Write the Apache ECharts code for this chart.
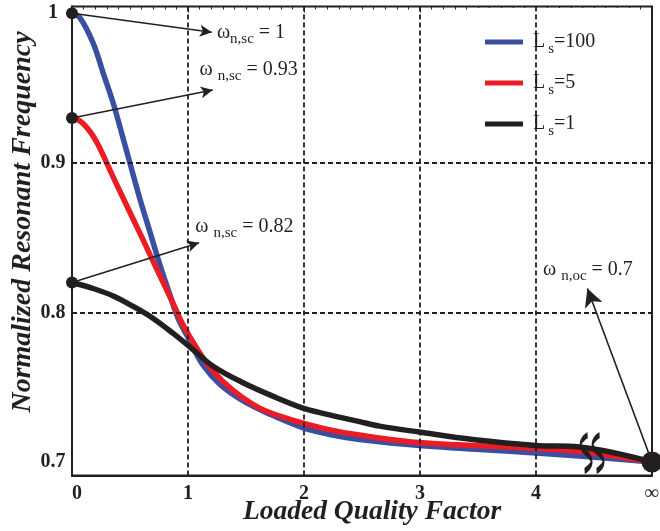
<!DOCTYPE html>
<html>
<head>
<meta charset="utf-8">
<script src="https://cdn.jsdelivr.net/npm/echarts@6/dist/echarts.min.js"></script>
<style>
  html, body { margin: 0; padding: 0; background: #fff; }
  #chart { width: 660px; height: 531px; }
</style>
</head>
<body>
<div id="chart"></div>
<script>
// Normalized resonant frequency versus loaded quality factor (x = 5 stands for Q = infinity)
const qLs100 = [0, 0.069, 0.183, 0.269, 0.355, 0.428, 0.499, 0.585, 0.671, 0.757, 0.843, 0.915, 1.016, 1.127, 1.274, 1.472, 1.704, 1.988, 2.246, 2.479, 2.995, 4.002, 4.372, 5];
const wLs100 = [1.0, 0.997, 0.980, 0.960, 0.940, 0.920, 0.900, 0.876, 0.854, 0.832, 0.812, 0.796, 0.781, 0.765, 0.752, 0.741, 0.732, 0.723, 0.718, 0.715, 0.711, 0.706, 0.704, 0.7];

const qLs5 = [0, 0.069, 0.155, 0.226, 0.299, 0.370, 0.456, 0.542, 0.628, 0.700, 0.786, 0.872, 0.955, 1.076, 1.213, 1.386, 1.618, 1.902, 2.194, 2.478, 2.995, 4.002, 4.372, 5];
const wLs5 = [0.93, 0.928, 0.921, 0.912, 0.900, 0.888, 0.874, 0.860, 0.846, 0.834, 0.820, 0.806, 0.792, 0.776, 0.761, 0.748, 0.736, 0.728, 0.722, 0.718, 0.713, 0.709, 0.707, 0.7];

const qLs1 = [0, 0.183, 0.355, 0.528, 0.700, 0.872, 1.015, 1.216, 1.474, 1.762, 1.991, 2.192, 2.479, 2.651, 2.995, 3.454, 3.999, 4.372, 5];
const wLs1 = [0.82, 0.816, 0.811, 0.804, 0.796, 0.786, 0.777, 0.764, 0.753, 0.743, 0.736, 0.732, 0.727, 0.724, 0.720, 0.715, 0.711, 0.710, 0.7];

const seriesNames = ['L s=100', 'L s=5', 'L s=1'];
const seriesLegend = ['=100', '=5', '=1'];

// short-circuit values at Q = 0 and the open-circuit value at Q = infinity
const scQ = [0, 0, 0];
const scW = [1, 0.93, 0.82];
const ocQ = [5];
const ocW = [0.7];

const xTickValues = [0, 1, 2, 3, 4, 5];
const xTickLabels = ['0', '1', '2', '3', '4', '∞'];
const yTickValues = [0.7, 0.8, 0.9, 1];
const yTickLabels = ['0.7', '0.8', '0.9', '1'];
const gridQ = [1, 2, 3, 4];
const gridW = [0.8, 0.9];

const INK = '#231F20';
const SERIF = '"Liberation Serif", "Times New Roman", serif';

const zip = (xs, ys) => xs.map((x, i) => [x, ys[i]]);

const curveColors = ['#3A4FA2', '#EC1C24', INK];
const curveData = [zip(qLs100, wLs100), zip(qLs5, wLs5), zip(qLs1, wLs1)];

const subRich = {
  w: { fontFamily: SERIF, fontSize: 20, color: INK, lineHeight: 28 },
  s: { fontFamily: SERIF, fontSize: 15, color: INK, lineHeight: 12, verticalAlign: 'bottom' },
  t: { fontFamily: SERIF, fontSize: 20, color: INK, lineHeight: 28 }
};

const chart = echarts.init(document.getElementById('chart'), null, { renderer: 'canvas' });

const curveSeries = seriesNames.map((name, i) => ({
  name: name,
  type: 'line',
  data: curveData[i],
  showSymbol: false,
  smooth: 0.35,
  z: 3 + i,
  lineStyle: { color: curveColors[i], width: 5.5, cap: 'round', join: 'round' },
  itemStyle: { color: curveColors[i] },
  clip: false
}));

const option = {
  animation: false,
  backgroundColor: '#fff',
  grid: {
    left: 72, right: 8, top: 6.5, bottom: 55.5,
    containLabel: false, outerBoundsMode: 'none',
    show: true, borderColor: INK, borderWidth: 2, backgroundColor: 'transparent'
  },
  legend: {
    orient: 'vertical',
    left: 470, top: 8,
    padding: [24, 44, 22, 15],
    backgroundColor: '#fff',
    icon: 'rect',
    itemWidth: 38, itemHeight: 5,
    itemGap: 16,
    data: seriesNames,
    formatter: name => '{l|L}{s|s}{t|' + seriesLegend[seriesNames.indexOf(name)] + '}',
    textStyle: {
      rich: {
        l: { fontFamily: SERIF, fontSize: 20, color: INK, lineHeight: 30, padding: [0, 0, 0, 5] },
        s: { fontFamily: SERIF, fontSize: 15, color: INK, lineHeight: 12, verticalAlign: 'bottom', padding: [0, 0, 0, 3] },
        t: { fontFamily: SERIF, fontSize: 20, color: INK, lineHeight: 30 }
      }
    }
  },
  xAxis: [{
    type: 'value', min: 0, max: 5, interval: 1,
    name: 'Loaded Quality Factor',
    nameLocation: 'middle', nameGap: 23, nameMoveOverlap: false,
    nameTextStyle: { fontFamily: SERIF, fontSize: 27.5, fontWeight: 'bold', fontStyle: 'italic', color: INK, padding: [0, 0, 0, 20] },
    axisLine: { show: true, onZero: false, lineStyle: { color: INK, width: 2 } },
    axisTick: { show: false },
    splitLine: { show: false },
    axisLabel: {
      margin: 8,
      fontFamily: SERIF, fontSize: 20, fontWeight: 'bold', color: INK,
      formatter: v => {
        const i = xTickValues.indexOf(v);
        if (i < 0) return '';
        return i === 0 ? '{z|' + xTickLabels[0] + '}' : xTickLabels[i];
      },
      rich: { z: { fontFamily: SERIF, fontSize: 20, fontWeight: 'bold', color: INK, padding: [0, 0, 0, 10] } }
    }
  }, {
    type: 'value', min: 0, max: 5, interval: 1, position: 'top',
    axisLine: { show: false },
    axisLabel: { show: false },
    splitLine: { show: false },
    axisTick: { show: true, inside: true, length: 6, lineStyle: { color: INK, width: 1 } },
    minorTick: { show: true, splitNumber: 10, length: 3, lineStyle: { color: INK, width: 1 } }
  }],
  yAxis: {
    type: 'value', min: 0.69097, max: 1.00455,
    name: 'Normalized Resonant Frequency',
    nameLocation: 'middle', nameGap: 35, nameRotate: 90, nameMoveOverlap: false,
    nameTextStyle: { fontFamily: SERIF, fontSize: 28, fontWeight: 'bold', fontStyle: 'italic', color: INK, padding: [0, 0, 0, 38] },
    axisLine: { show: true, onZero: false, lineStyle: { color: INK, width: 2 } },
    axisTick: { show: false },
    splitLine: { show: false },
    axisLabel: {
      customValues: yTickValues,
      align: 'center', margin: 19,
      fontFamily: SERIF, fontSize: 20, fontWeight: 'bold', color: INK,
      formatter: v => {
        const i = yTickValues.findIndex(t => Math.abs(t - v) < 1e-6);
        return i < 0 ? '' : yTickLabels[i];
      }
    }
  },
  series: [
    {
      // dashed reference grid
      name: 'grid', type: 'line', data: [], z: 1, silent: true,
      markLine: {
        silent: true, symbol: ['none', 'none'],
        label: { show: false },
        lineStyle: { color: INK, width: 1.8, type: [5, 3] },
        data: gridQ.map(q => ({ xAxis: q })).concat(gridW.map(w => ({ yAxis: w })))
      }
    },
    ...curveSeries,
    {
      // arrows from the marked points to their notes
      name: 'arrows', type: 'line', data: [], z: 7, silent: true,
      markLine: {
        silent: true,
        symbol: ['none', 'arrow'],
        symbolSize: [9, 12],
        label: { show: false },
        lineStyle: { color: INK, width: 1.6, type: 'solid' },
        data: [
          [{ coord: [scQ[0], scW[0]] }, { coord: [1.205, 0.9873] }],
          [{ coord: [scQ[1], scW[1]] }, { coord: [1.213, 0.9487] }],
          [{ coord: [scQ[2], scW[2]] }, { coord: [1.096, 0.8466] }],
          [{ coord: [ocQ[0], ocW[0]] }, { coord: [4.443, 0.816], symbolSize: [14, 18] }]
        ]
      },
      markPoint: {
        symbol: 'circle', symbolSize: 1,
        itemStyle: { color: 'rgba(0,0,0,0)' },
        label: { show: true, position: 'right', distance: 0, rich: subRich },
        data: [
          { coord: [1.245, 0.9868], label: { formatter: '{w|ω}{s|n,sc}{t| = ' + scW[0] + '}' } },
          { coord: [1.0955, 0.9621], label: { formatter: '{w|ω }{s|n,sc}{t| = ' + scW[1] + '}' } },
          { coord: [1.0585, 0.8573], label: { formatter: '{w|ω }{s|n,sc}{t| = ' + scW[2] + '}' } },
          { coord: [4.056, 0.8284], label: { formatter: '{w|ω }{s|n,oc}{t| = ' + ocW[0] + '}' } }
        ]
      }
    },
    {
      // axis-break marks between Q = 4 and infinity
      name: 'break', type: 'scatter', z: 8, silent: true, clip: false,
      data: [[4.432, 0.706], [4.535, 0.706]],
      symbol: 'path://M6,0 C0,6 0,12 5,18 C10,24 10,30 4,36',
      symbolSize: [11, 36],
      itemStyle: { color: 'rgba(0,0,0,0)', borderColor: INK, borderWidth: 3.5, opacity: 1 }
    },
    {
      name: 'short circuit', type: 'scatter', z: 9, silent: true, clip: false,
      data: zip(scQ, scW), symbolSize: 12,
      itemStyle: { color: INK, opacity: 1 }
    },
    {
      name: 'open circuit', type: 'scatter', z: 9, silent: true, clip: false,
      data: zip(ocQ, ocW), symbolSize: 21,
      itemStyle: { color: INK, opacity: 1 }
    }
  ]
};

chart.setOption(option);
</script>
</body>
</html>
